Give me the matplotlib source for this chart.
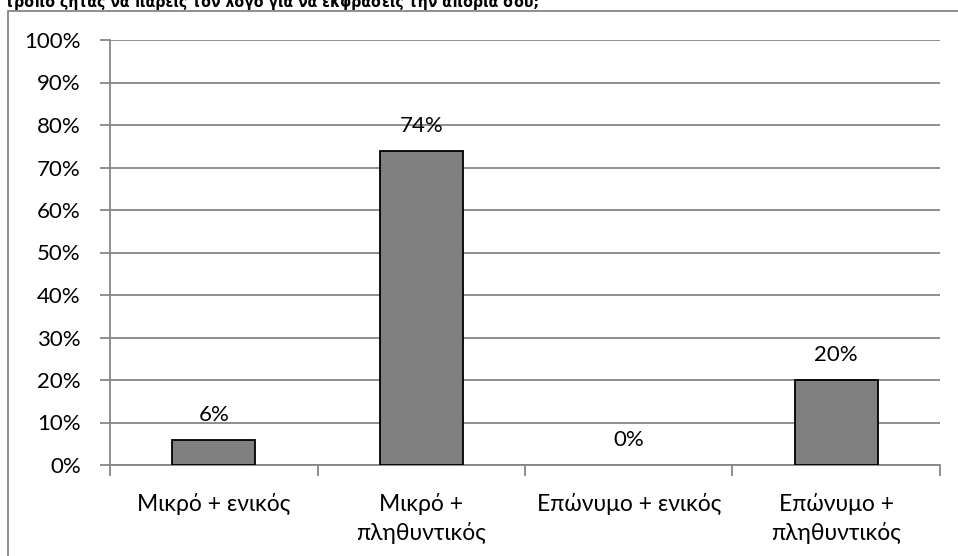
import matplotlib.pyplot as plt
from matplotlib.patches import Rectangle
from matplotlib.ticker import FixedLocator

categories = ["Μικρό + ενικός", "Μικρό +\nπληθυντικός", "Επώνυμο + ενικός", "Επώνυμο +\nπληθυντικός"]
values = [6, 74, 0, 20]
y_ticks = [0, 10, 20, 30, 40, 50, 60, 70, 80, 90, 100]
title = "τρόπο ζητάς να πάρεις τον λόγο για να εκφράσεις την απορία σου;"

plt.rcParams['font.family'] = ['Lato', 'DejaVu Sans']
grey = "#868686"
fs = 16

fig = plt.figure(figsize=(9.58, 5.56), dpi=100)

# outer chart frame (only top and left visible)
fig.patches.append(Rectangle((8 / 958, -0.2), 1.2, 1.2 - 11 / 556,
                             transform=fig.transFigure, fill=False,
                             edgecolor=grey, linewidth=1.3))

# question text, cut off at the top like in the original
fig.text(5 / 958, 1 - 7 / 556, title, fontsize=11.3, fontweight="bold",
         family="DejaVu Sans", fontstretch="condensed",
         va="baseline", ha="left", color="black")

ax = fig.add_axes([110 / 958, 1 - 465 / 556, 830 / 958, 425 / 556])
x = range(len(categories))
edges = ["black" if v > 0 else "none" for v in values]
ax.bar(x, values, width=0.4, color="#808080", edgecolor=edges, linewidth=1.3, zorder=3)
for i, v in enumerate(values):
    ax.text(i, v + 3.5, f"{v}%", ha="center", va="bottom", fontsize=fs, zorder=4)

ax.set_xlim(-0.5, len(categories) - 0.5)
ax.set_ylim(0, 100)
ax.set_yticks(y_ticks)
ax.set_yticklabels([f"{t}%" for t in y_ticks], fontsize=fs)
ax.set_xticks(list(x))
ax.set_xticklabels(categories, fontsize=16.5, linespacing=1.4)
ax.xaxis.set_minor_locator(FixedLocator([i - 0.5 for i in range(len(categories) + 1)]))
ax.tick_params(axis="x", which="major", length=0, pad=20)
ax.tick_params(axis="x", which="minor", length=8, color=grey, width=1.3)
ax.tick_params(axis="y", length=7, color=grey, width=1.3, pad=14)
ax.yaxis.grid(True, color=grey, linewidth=1.3, zorder=0)
for s in ["top", "right"]:
    ax.spines[s].set_visible(False)
for s in ["left", "bottom"]:
    ax.spines[s].set_color(grey)
    ax.spines[s].set_linewidth(1.3)

fig.savefig("out.png", dpi=100)
